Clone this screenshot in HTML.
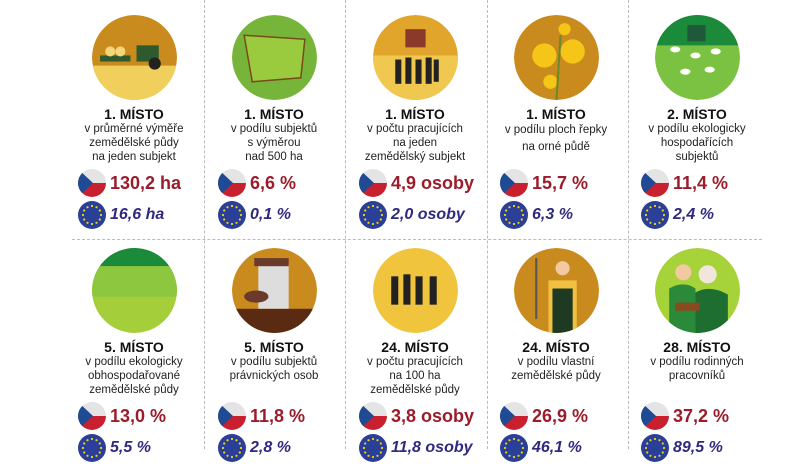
<!DOCTYPE html>
<html><head><meta charset="utf-8">
<style>
body{margin:0;width:800px;height:449px;overflow:hidden;background:#fff;font-family:"Liberation Sans",Arial,sans-serif;position:relative}
.cell{position:absolute;width:140px;text-align:center}
.ic{position:absolute;left:28px;width:85px;height:85px}
.t{position:absolute;left:0;width:140px;font-weight:bold;font-size:14px;color:#111}
.d{position:absolute;left:0;width:140px;font-size:11.5px;line-height:14px;color:#222}
.flag{position:absolute;left:14px;width:28px;height:28px;border-radius:50%;overflow:hidden}
.cz{background:linear-gradient(#e4e4e4 0 50%,#c8202e 50%)}
.cz:after{content:"";position:absolute;left:0;top:0;border-left:15px solid #1f4a94;border-top:14px solid transparent;border-bottom:14px solid transparent}
.eu{background:#2a3f98}
.v{position:absolute;left:46px;white-space:nowrap;font-weight:bold}
.vr{font-size:18px;color:#9b1c2b}
.vb{font-size:16px;color:#2f2a7f;font-style:italic}
.vl{position:absolute;top:0;width:0;border-left:1px dashed #bbb}
</style></head><body>
<div style="position:absolute;left:72px;top:239px;width:690px;border-top:1px dashed #bbb"></div>
<div class="vl" style="left:204px;height:449px"></div>
<div class="vl" style="left:345px;height:449px"></div>
<div class="vl" style="left:487px;height:449px"></div>
<div class="vl" style="left:628px;height:449px"></div>
<div id="root"></div>
<script>
const cx=[134,274,415,556,697];
const titles=["1. MÍSTO","1. MÍSTO","1. MÍSTO","1. MÍSTO","2. MÍSTO","5. MÍSTO","5. MÍSTO","24. MÍSTO","24. MÍSTO","28. MÍSTO"];
const descs=[["v průměrné výměře","zemědělské půdy","na jeden subjekt"],["v podílu subjektů","s výměrou","nad 500 ha"],["v počtu pracujících","na jeden","zemědělský subjekt"],["v podílu ploch řepky","na orné půdě"],["v podílu ekologicky","hospodařících","subjektů"],["v podílu ekologicky","obhospodařované","zemědělské půdy"],["v podílu subjektů","právnických osob"],["v počtu pracujících","na 100 ha","zemědělské půdy"],["v podílu vlastní","zemědělské půdy"],["v podílu rodinných","pracovníků"]];
const czVals=["130,2 ha","6,6 %","4,9 osoby","15,7 %","11,4 %","13,0 %","11,8 %","3,8 osoby","26,9 %","37,2 %"];
const euVals=["16,6 ha","0,1 %","2,0 osoby","6,3 %","2,4 %","5,5 %","2,8 %","11,8 osoby","46,1 %","89,5 %"];
const icons=[
'<circle cx="42" cy="42" r="42" fill="#c98a1e"/><path d="M0 50H84V84H0Z" fill="#f1cf5c"/><rect x="8" y="40" width="30" height="6" fill="#2e5a2e"/><circle cx="18" cy="36" r="5" fill="#f3d77a"/><circle cx="28" cy="36" r="5" fill="#f3d77a"/><rect x="44" y="30" width="22" height="16" fill="#2e5a2e"/><circle cx="62" cy="48" r="6" fill="#222"/>',
'<circle cx="42" cy="42" r="42" fill="#76b43a"/><path d="M12 20L72 24L68 62L20 66Z" fill="#9acb3e" stroke="#7a4a1a" stroke-width="1.5"/>',
'<circle cx="42" cy="42" r="42" fill="#e0a52a"/><path d="M0 40H84V84H0Z" fill="#f0c850"/><rect x="32" y="14" width="20" height="18" fill="#8b3a2a"/><g fill="#222"><rect x="22" y="44" width="6" height="24"/><rect x="32" y="42" width="6" height="26"/><rect x="42" y="44" width="6" height="24"/><rect x="52" y="42" width="6" height="26"/><rect x="60" y="44" width="5" height="22"/></g>',
'<circle cx="42" cy="42" r="42" fill="#c98a1e"/><g fill="#f5c518"><circle cx="30" cy="40" r="12"/><circle cx="58" cy="36" r="12"/><circle cx="50" cy="14" r="6"/><circle cx="36" cy="66" r="7"/></g><path d="M42 84L46 20" stroke="#6a8a2a" stroke-width="2"/>',
'<circle cx="42" cy="42" r="42" fill="#7cc242"/><path d="M0 30H84V0H0Z" fill="#1b8a3a"/><rect x="32" y="10" width="18" height="16" fill="#1e5a3a"/><g fill="#fff"><ellipse cx="20" cy="34" rx="5" ry="3"/><ellipse cx="40" cy="40" rx="5" ry="3"/><ellipse cx="60" cy="36" rx="5" ry="3"/><ellipse cx="30" cy="56" rx="5" ry="3"/><ellipse cx="54" cy="54" rx="5" ry="3"/></g>',
'<circle cx="42" cy="42" r="42" fill="#a5cf3a"/><path d="M0 0H84V18H0Z" fill="#1b8a3a"/><path d="M0 18H84V48H0Z" fill="#8dc63f"/>',
'<circle cx="42" cy="42" r="42" fill="#c98a1e"/><path d="M0 60H84V84H0Z" fill="#5a2a12"/><rect x="26" y="16" width="30" height="44" fill="#ddd"/><rect x="22" y="10" width="34" height="8" fill="#6a3a2a"/><ellipse cx="24" cy="48" rx="12" ry="6" fill="#6a3a2a"/>',
'<circle cx="42" cy="42" r="42" fill="#f0c43c"/><g fill="#222"><rect x="18" y="28" width="7" height="28"/><rect x="30" y="26" width="7" height="30"/><rect x="42" y="28" width="7" height="28"/><rect x="56" y="28" width="7" height="28"/></g>',
'<circle cx="42" cy="42" r="42" fill="#c98a1e"/><circle cx="48" cy="20" r="7" fill="#f2c9a0"/><path d="M34 32H62V84H34Z" fill="#f2c040"/><path d="M38 40H58V84H38Z" fill="#1e3a22"/><path d="M22 10V70" stroke="#555" stroke-width="2"/>',
'<circle cx="42" cy="42" r="42" fill="#a6d23a"/><circle cx="28" cy="24" r="8" fill="#f2c9a0"/><circle cx="52" cy="26" r="9" fill="#f0e6dc"/><path d="M14 84V40Q28 32 40 40V84Z" fill="#2a8a3a"/><path d="M40 84V44Q54 36 72 46V84Z" fill="#1d6e30"/><rect x="20" y="54" width="24" height="8" fill="#8a4a20"/>'
];
const root=document.getElementById('root');
for(let i=0;i<10;i++){
 const row=Math.floor(i/5), col=i%5;
 const oy=row?233:0;
 const c=document.createElement('div');
 c.className='cell';
 c.style.left=(cx[col]-70)+'px';c.style.top=oy+'px';c.style.height='240px';
 
 
 const ic=document.createElementNS('http://www.w3.org/2000/svg','svg');
 ic.setAttribute('class','ic');ic.setAttribute('viewBox','0 0 84 84');
 ic.style.top='15px';
 ic.innerHTML='<defs><clipPath id="cp'+i+'"><circle cx="42" cy="42" r="42"/></clipPath></defs><g clip-path="url(#cp'+i+')">'+icons[i]+'</g>';
 
 
 c.appendChild(ic);
 const t=document.createElement('div');t.className='t';t.style.top='106px';t.textContent=titles[i];
 
 
 c.appendChild(t);
 const lines=descs[i];
 const d=document.createElement('div');d.className='d';d.style.top='122px';
 if(i===3){d.style.lineHeight='17px';}
 d.innerHTML=lines.join('<br>');
 
 
 c.appendChild(d);
 const fy=[169,201];
 const f1=document.createElement('div');f1.className='flag cz';f1.style.top=fy[0]+'px';
 
 
 c.appendChild(f1);
 const v1=document.createElement('div');v1.className='v vr';v1.style.top=(fy[0]+4)+'px';v1.textContent=czVals[i];
 
 
 c.appendChild(v1);
 const f2=document.createElement('div');f2.className='flag eu';f2.style.top=fy[1]+'px';
 f2.innerHTML='<svg width="28" height="28" viewBox="0 0 28 28">'+Array.from({length:12},(_,k)=>{const a=k*Math.PI/6;return '<circle cx="'+(14+9*Math.cos(a)).toFixed(1)+'" cy="'+(14+9*Math.sin(a)).toFixed(1)+'" r="1.1" fill="#f5d312"/>';}).join('')+'</svg>';
 
 
 c.appendChild(f2);
 const v2=document.createElement('div');v2.className='v vb';v2.style.top=(fy[1]+5)+'px';v2.textContent=euVals[i];
 
 
 c.appendChild(v2);
 root.appendChild(c);
}
</script>
</body></html>
